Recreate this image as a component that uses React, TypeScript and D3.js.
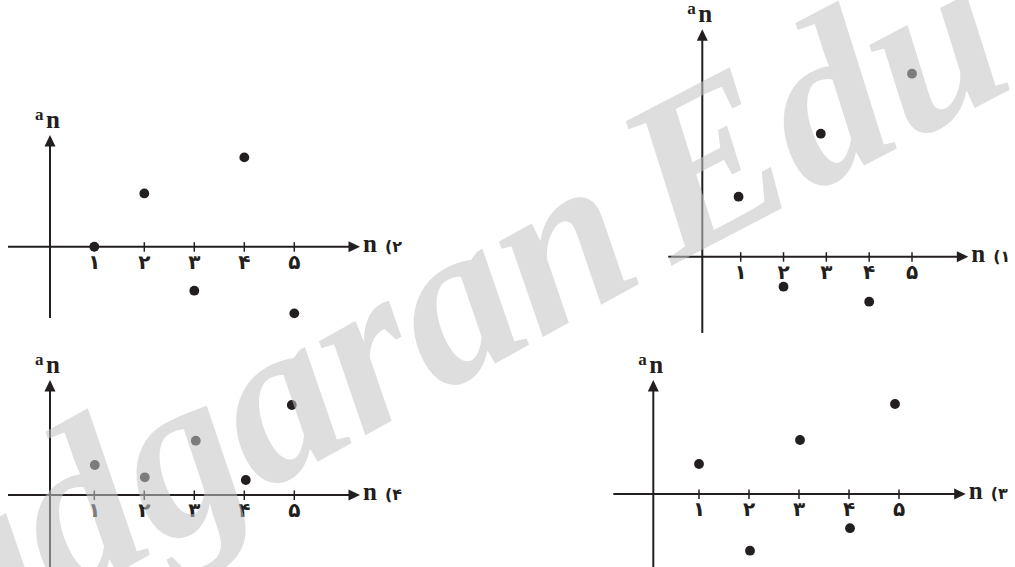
import React from "react";
import * as d3 from "d3";

// ---- data ----
const tickValues = [1, 2, 3, 4, 5];
const tickLabels = ["۱", "۲", "۳", "۴", "۵"];
const panelLabels = ["(۱", "(۲", "(۳", "(۴"];

// panel ۱ (top right)
const p1N = [0.95, 2, 2.87, 4, 5];
const p1A = [2, -1, 4.1, -1.5, 6.1];
// panel ۲ (top left)
const p2N = [1, 2, 3, 4, 5];
const p2A = [0, 2.42, -2, 4.06, -3.03];
// panel ۳ (bottom right)
const p3N = [1, 2.02, 3.02, 4.02, 4.92];
const p3A = [1, -1.89, 1.8, -1.14, 3];
// panel ۴ (bottom left)
const p4N = [1.01, 2.01, 3.03, 4.03, 4.95];
const p4A = [1, 0.59, 1.81, 0.5, 3];

const watermarkParts = ["Yadgaran", "Edu"];

// ---- layout ----
const W = 1015;
const H = 567;
const INK = "#231f20";

type Layout = {
  ox: number; oy: number; t1: number; t5: number; unit: number;
  xL: number; xR: number; yT: number; yB: number;
};

const layouts: Layout[] = [
  { ox: 702.3, oy: 256.7, t1: 740.7, t5: 912, unit: 30, xL: 668.3, xR: 968.3, yT: 29.3, yB: 333 },
  { ox: 50, oy: 246.7, t1: 94.3, t5: 294.3, unit: 22, xL: 8, xR: 360, yT: 135, yB: 318 },
  { ox: 653.3, oy: 494, t1: 699, t5: 899, unit: 30, xL: 613.3, xR: 965.7, yT: 380, yB: 572 },
  { ox: 50, oy: 495, t1: 94.3, t5: 294.3, unit: 30, xL: 8, xR: 360, yT: 380, yB: 572 },
];

const series = [
  { n: p1N, a: p1A },
  { n: p2N, a: p2A },
  { n: p3N, a: p3A },
  { n: p4N, a: p4A },
];

const watermarkPlacement = [
  "translate(-141,716) rotate(-29)",
  "translate(673,265) rotate(-27.5)",
];

const SERIF = "Liberation Serif";
const DIGITS = "DejaVu Sans";

function Panel({ L, s, label }: { L: Layout; s: { n: number[]; a: number[] }; label: string }) {
  const x = d3.scaleLinear().domain([1, 5]).range([L.t1, L.t5]);
  const y = d3.scaleLinear().domain([0, 1]).range([L.oy, L.oy - L.unit]);
  const aw = 11.5;
  const ah = 5.5;
  return (
    <g>
      <line x1={L.xL} x2={L.xR - aw + 1} y1={L.oy} y2={L.oy} stroke={INK} strokeWidth={2} />
      <polygon
        points={`${L.xR},${L.oy} ${L.xR - aw},${L.oy - ah} ${L.xR - aw},${L.oy + ah}`}
        fill={INK}
      />
      <line x1={L.ox} x2={L.ox} y1={L.yB} y2={L.yT + aw - 1} stroke={INK} strokeWidth={2} />
      <polygon
        points={`${L.ox},${L.yT} ${L.ox - ah},${L.yT + aw} ${L.ox + ah},${L.yT + aw}`}
        fill={INK}
      />
      {tickValues.map((t, i) => (
        <g key={t}>
          <line x1={x(t)} x2={x(t)} y1={L.oy - 4.5} y2={L.oy + 5} stroke={INK} strokeWidth={1.5} />
          <text
            x={x(t)}
            y={L.oy + 22}
            textAnchor="middle"
            style={{ fontFamily: DIGITS, fontWeight: 700, fontSize: "20px" }}
            fill={INK}
          >
            {tickLabels[i]}
          </text>
        </g>
      ))}
      {s.n.map((n, i) => (
        <circle key={i} cx={x(n)} cy={y(s.a[i])} r={4.9} fill={INK} />
      ))}
      <text x={L.ox - 15} y={L.yT - 15} style={{ fontFamily: SERIF, fontWeight: 700, fontSize: "17px" }} fill={INK}>
        a
      </text>
      <text x={L.ox - 4} y={L.yT - 7.5} style={{ fontFamily: SERIF, fontWeight: 700, fontSize: "25px" }} fill={INK}>
        n
      </text>
      <text x={L.xR + 3} y={L.oy + 5} style={{ fontFamily: SERIF, fontWeight: 700, fontSize: "25px" }} fill={INK}>
        n
      </text>
      <text x={L.xR + 25} y={L.oy + 5} style={{ fontFamily: DIGITS, fontWeight: 700, fontSize: "16px" }} fill={INK}>
        {label}
      </text>
    </g>
  );
}

export default function App() {
  return (
    <svg
      width={W}
      height={H}
      viewBox={`0 0 ${W} ${H}`}
      style={{ position: "absolute", left: 0, top: 0, background: "#fff" }}
    >
      <rect x={0} y={0} width={W} height={H} fill="#fff" />
      {layouts.map((L, i) => (
        <Panel key={i} L={L} s={series[i]} label={panelLabels[i]} />
      ))}
      {watermarkParts.map((w, i) => (
        <text
          key={w}
          transform={watermarkPlacement[i]}
          textAnchor="start"
          style={{ fontFamily: SERIF, fontWeight: 700, fontStyle: "italic", fontSize: "228px" }}
          fill="#c4c4c4"
          fillOpacity={0.56}
        >
          {w}
        </text>
      ))}
    </svg>
  );
}
